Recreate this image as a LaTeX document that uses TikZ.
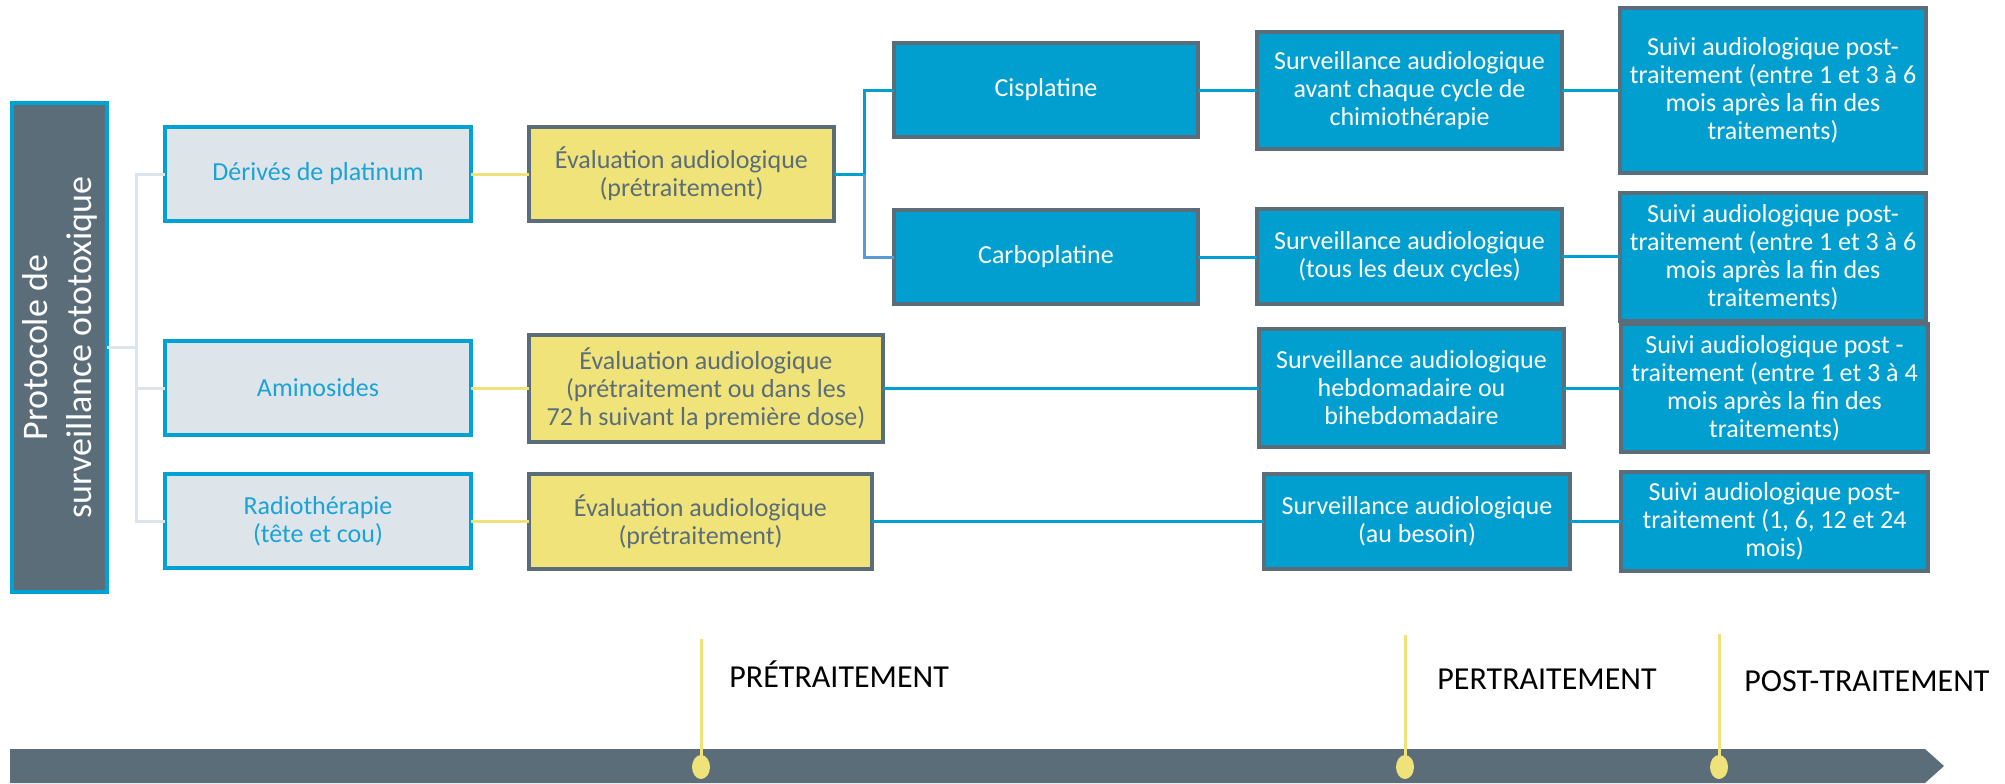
\documentclass[tikz,border=0pt]{standalone}
\usepackage{fontspec}
\setmainfont{Carlito}
\usetikzlibrary{shapes.geometric}
\definecolor{bblue}{HTML}{009FCF}
\definecolor{dgray}{HTML}{5A6D79}
\definecolor{yel}{HTML}{EFE37A}
\definecolor{lgfill}{HTML}{DDE5EB}
\definecolor{lblue}{HTML}{00A2D6}
\definecolor{ltxt}{HTML}{1BA3D5}
\definecolor{treec}{HTML}{DDE5EC}
\definecolor{ylin}{HTML}{EFE27A}
\definecolor{cblue}{HTML}{5B9BD5}
\tikzset{
  basebox/.style={rectangle, inner sep=0pt, outer sep=0pt, line width=2pt, align=center,
    font=\fontsize{13pt}{14pt}\selectfont},
  lightbox/.style={basebox, draw=lblue, fill=lgfill, text=ltxt},
  evalbox/.style={basebox, draw=dgray, fill=yel, text=dgray},
  bluebox/.style={basebox, draw=dgray, fill=bblue, text=white},
  titlebox/.style={rectangle, inner sep=0pt, outer sep=0pt, line width=2pt, draw=lblue, fill=dgray},
  treeline/.style={draw=treec, line width=1.5pt},
  yline/.style={draw=ylin, line width=1.5pt},
  bline/.style={draw=bblue, line width=1.5pt},
  cline/.style={draw=cblue, line width=1.5pt},
  tick/.style={draw=ylin, line width=1.5pt},
  tickdot/.style={ellipse, fill=ylin, inner sep=0pt, minimum width=9pt, minimum height=12pt},
  phase/.style={anchor=base west, inner sep=0pt, font=\fontsize{16pt}{18pt}\selectfont, text=black}
}
\begin{document}
\begin{tikzpicture}[x=0.5pt,y=-0.5pt]
\useasboundingbox (0,0) rectangle (2005,783);
% title box
\node[titlebox, minimum width=47.5pt, minimum height=244.5pt] (title) at (59.5,347.5) {};
\node[rotate=90, align=center, text=white, inner sep=0pt, font=\fontsize{18pt}{22pt}\selectfont] (titletxt) at (60,347.5) {Protocole de\\surveillance ototoxique};
% first column
\node[lightbox, minimum width=153pt, minimum height=47pt] (der) at (318,174) {Dérivés de platinum};
\node[lightbox, minimum width=153pt, minimum height=47pt] (ami) at (318,388) {Aminosides};
\node[lightbox, minimum width=153pt, minimum height=47pt] (rad) at (318,521) {Radiothérapie\\(tête et cou)};
% evaluation
\node[evalbox, minimum width=152.5pt, minimum height=47pt] (ev1) at (681.5,174) {Évaluation audiologique\\(prétraitement)};
\node[evalbox, minimum width=177pt, minimum height=53.5pt] (ev2) at (706,388.5) {Évaluation audiologique\\(prétraitement ou dans les\\72 h suivant la première dose)};
\node[evalbox, minimum width=171.5pt, minimum height=47.5pt] (ev3) at (700.5,521.5) {Évaluation audiologique\\(prétraitement)};
% drugs
\node[bluebox, minimum width=152pt, minimum height=47pt] (cis) at (1046,90) {Cisplatine};
\node[bluebox, minimum width=152pt, minimum height=47pt] (car) at (1046,257) {Carboplatine};
% surveillance
\node[bluebox, minimum width=152.5pt, minimum height=58.5pt] (sv1) at (1409.5,90.5) {Surveillance audiologique\\avant chaque cycle de\\chimiothérapie};
\node[bluebox, minimum width=152.5pt, minimum height=47.5pt] (sv2) at (1409.5,256.5) {Surveillance audiologique\\(tous les deux cycles)};
\node[bluebox, minimum width=152.5pt, minimum height=59pt] (sv3) at (1411.5,388) {Surveillance audiologique\\hebdomadaire ou\\bihebdomadaire};
\node[bluebox, minimum width=153pt, minimum height=47.5pt] (sv4) at (1417,521.5) {Surveillance audiologique\\(au besoin)};
% follow-up
\node[bluebox, minimum width=153pt, minimum height=82.5pt] (su1) at (1773,90.5) {Suivi audiologique post-\\traitement (entre 1 et 3 à 6\\mois après la fin des\\traitements)};
\node[bluebox, minimum width=153pt, minimum height=64pt] (su2) at (1773,257) {Suivi audiologique post-\\traitement (entre 1 et 3 à 6\\mois après la fin des\\traitements)};
\node[bluebox, minimum width=153.5pt, minimum height=64pt] (su3) at (1774.5,388) {Suivi audiologique post -\\traitement (entre 1 et 3 à 4\\mois après la fin des\\traitements)};
\node[bluebox, minimum width=153.5pt, minimum height=49.5pt] (su4) at (1774.5,521.5) {Suivi audiologique post-\\traitement (1, 6, 12 et 24\\mois)};
% tree connectors
\coordinate (tj) at (136,347.5);
\path[treeline] (title.east) -- (tj);
\path[treeline] (tj) |- (der.west);
\path[treeline] (tj) |- (ami.west);
\path[treeline] (tj) |- (rad.west);
% yellow connectors
\path[yline] (der.east) -- (ev1.west);
\path[yline] (ami.east) -- (ami.east -| ev2.west);
\path[yline] (rad.east) -- (rad.east -| ev3.west);
% blue connectors
\coordinate (bj) at (864,174);
\path[bline] (ev1.east) -- (bj);
\path[bline] (bj) |- (cis.west);
\path[cline] (bj) |- (car.west);
\path[bline] (cis.east) -- (cis.east -| sv1.west);
\path[bline] (sv1.east) -- (sv1.east -| su1.west);
\path[bline] (car.east) -- (car.east -| sv2.west);
\path[bline] (sv2.east) -- (sv2.east -| su2.west);
\path[bline] (ev2.east) -- (ev2.east -| sv3.west);
\path[bline] (sv3.east) -- (sv3.east -| su3.west);
\path[bline] (ev3.east) -- (ev3.east -| sv4.west);
\path[bline] (sv4.east) -- (sv4.east -| su4.west);
% timeline
\fill[dgray] (10,749) -- (1925,749) -- (1944,766) -- (1925,783) -- (10,783) -- cycle;
\coordinate (t1) at (701,639);
\coordinate (t2) at (1405,635);
\coordinate (t3) at (1719,634);
\node[tickdot] (d1) at (701,767) {};
\node[tickdot] (d2) at (1405,767) {};
\node[tickdot] (d3) at (1719,767) {};
\path[tick] (t1) -- (d1.center);
\path[tick] (t2) -- (d2.center);
\path[tick] (t3) -- (d3.center);
\node[phase] (p1) at (729,687) {PRÉTRAITEMENT};
\node[phase] (p2) at (1437,689) {PERTRAITEMENT};
\node[phase] (p3) at (1744,691) {POST-TRAITEMENT};
\end{tikzpicture}
\end{document}
